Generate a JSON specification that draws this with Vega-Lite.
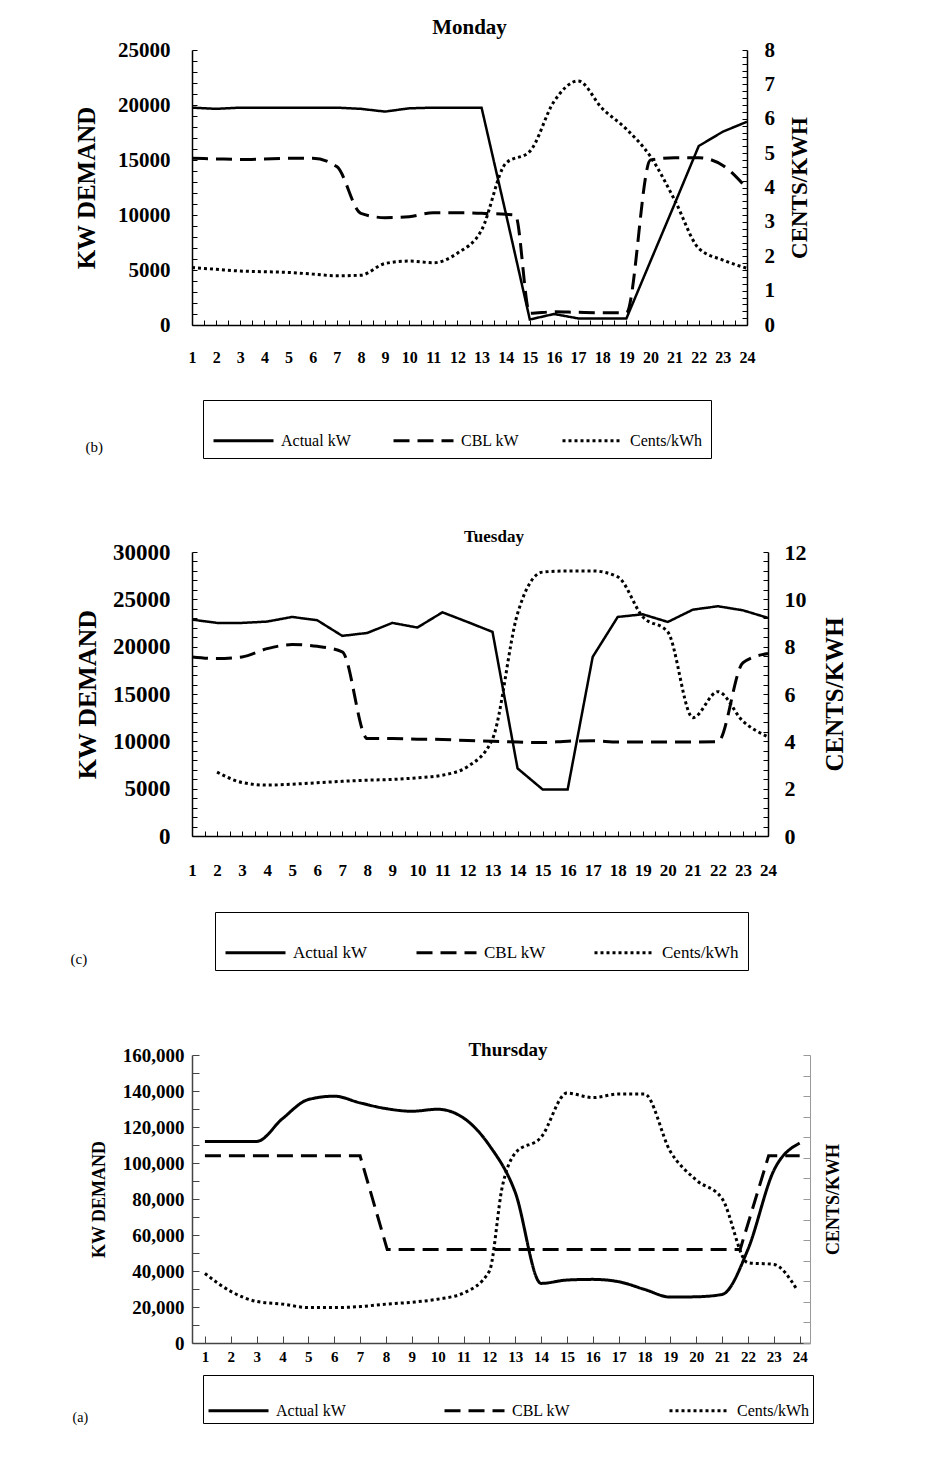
{
  "$schema": "https://vega.github.io/schema/vega-lite/v6.json",
  "background": "white",
  "padding": {"left": 70, "top": 17, "right": 10, "bottom": 10},
  "bounds": "flush",
  "spacing": 227,
  "resolve": {"scale": {"strokeDash": "independent"}, "legend": {"strokeDash": "independent"}},
  "config": {
    "view": {"stroke": null},
    "font": "Liberation Serif",
    "axis": {"grid": false, "domainColor": "black", "tickColor": "black", "labelColor": "black", "titleColor": "black", "labelFont": "Liberation Serif", "titleFont": "Liberation Serif", "domainWidth": 1.5, "tickWidth": 1},
    "legend": {"labelFont": "Liberation Serif", "labelColor": "black"}
  },
  "datasets": {
    "monday": [
      {"hour":1,"series":"Actual kW","value":19760},{"hour":2,"series":"Actual kW","value":19650},{"hour":3,"series":"Actual kW","value":19760},{"hour":4,"series":"Actual kW","value":19760},{"hour":5,"series":"Actual kW","value":19760},{"hour":6,"series":"Actual kW","value":19760},{"hour":7,"series":"Actual kW","value":19760},{"hour":8,"series":"Actual kW","value":19650},{"hour":9,"series":"Actual kW","value":19400},{"hour":10,"series":"Actual kW","value":19700},{"hour":11,"series":"Actual kW","value":19760},{"hour":12,"series":"Actual kW","value":19760},{"hour":13,"series":"Actual kW","value":19760},{"hour":14,"series":"Actual kW","value":10200},{"hour":15,"series":"Actual kW","value":500},{"hour":16,"series":"Actual kW","value":1000},{"hour":17,"series":"Actual kW","value":600},{"hour":18,"series":"Actual kW","value":580},{"hour":19,"series":"Actual kW","value":580},{"hour":20,"series":"Actual kW","value":5800},{"hour":21,"series":"Actual kW","value":11000},{"hour":22,"series":"Actual kW","value":16270},{"hour":23,"series":"Actual kW","value":17575},{"hour":24,"series":"Actual kW","value":18480},
      {"hour":1,"series":"CBL kW","value":15150},{"hour":2,"series":"CBL kW","value":15100},{"hour":3,"series":"CBL kW","value":15050},{"hour":4,"series":"CBL kW","value":15100},{"hour":5,"series":"CBL kW","value":15150},{"hour":6,"series":"CBL kW","value":15150},{"hour":7,"series":"CBL kW","value":14400},{"hour":8,"series":"CBL kW","value":10150},{"hour":9,"series":"CBL kW","value":9760},{"hour":10,"series":"CBL kW","value":9850},{"hour":11,"series":"CBL kW","value":10200},{"hour":12,"series":"CBL kW","value":10200},{"hour":13,"series":"CBL kW","value":10150},{"hour":14,"series":"CBL kW","value":10060},{"hour":14.4,"series":"CBL kW","value":10000},{"hour":15,"series":"CBL kW","value":1060},{"hour":16,"series":"CBL kW","value":1200},{"hour":17,"series":"CBL kW","value":1150},{"hour":18,"series":"CBL kW","value":1120},{"hour":19,"series":"CBL kW","value":1120},{"hour":20,"series":"CBL kW","value":15000},{"hour":21,"series":"CBL kW","value":15200},{"hour":22,"series":"CBL kW","value":15200},{"hour":23,"series":"CBL kW","value":14500},{"hour":24,"series":"CBL kW","value":12400},
      {"hour":1,"series":"Cents/kWh","value":1.67},{"hour":2,"series":"Cents/kWh","value":1.62},{"hour":3,"series":"Cents/kWh","value":1.57},{"hour":4,"series":"Cents/kWh","value":1.55},{"hour":5,"series":"Cents/kWh","value":1.53},{"hour":6,"series":"Cents/kWh","value":1.48},{"hour":7,"series":"Cents/kWh","value":1.43},{"hour":8,"series":"Cents/kWh","value":1.45},{"hour":9,"series":"Cents/kWh","value":1.79},{"hour":10,"series":"Cents/kWh","value":1.86},{"hour":11,"series":"Cents/kWh","value":1.81},{"hour":12,"series":"Cents/kWh","value":2.09},{"hour":13,"series":"Cents/kWh","value":2.76},{"hour":14,"series":"Cents/kWh","value":4.7},{"hour":15,"series":"Cents/kWh","value":5.05},{"hour":16,"series":"Cents/kWh","value":6.5},{"hour":17,"series":"Cents/kWh","value":7.1},{"hour":18,"series":"Cents/kWh","value":6.3},{"hour":19,"series":"Cents/kWh","value":5.7},{"hour":20,"series":"Cents/kWh","value":4.9},{"hour":21,"series":"Cents/kWh","value":3.64},{"hour":22,"series":"Cents/kWh","value":2.23},{"hour":23,"series":"Cents/kWh","value":1.89},{"hour":24,"series":"Cents/kWh","value":1.65}
    ],
    "tuesday": [
      {"hour":1,"series":"Actual kW","value":22860},{"hour":2,"series":"Actual kW","value":22510},{"hour":3,"series":"Actual kW","value":22510},{"hour":4,"series":"Actual kW","value":22650},{"hour":5,"series":"Actual kW","value":23140},{"hour":6,"series":"Actual kW","value":22790},{"hour":7,"series":"Actual kW","value":21140},{"hour":8,"series":"Actual kW","value":21450},{"hour":9,"series":"Actual kW","value":22510},{"hour":10,"series":"Actual kW","value":22020},{"hour":11,"series":"Actual kW","value":23630},{"hour":12,"series":"Actual kW","value":22610},{"hour":13,"series":"Actual kW","value":21560},{"hour":14,"series":"Actual kW","value":7140},{"hour":15,"series":"Actual kW","value":4920},{"hour":16,"series":"Actual kW","value":4920},{"hour":17,"series":"Actual kW","value":18920},{"hour":18,"series":"Actual kW","value":23140},{"hour":19,"series":"Actual kW","value":23420},{"hour":20,"series":"Actual kW","value":22610},{"hour":21,"series":"Actual kW","value":23910},{"hour":22,"series":"Actual kW","value":24270},{"hour":23,"series":"Actual kW","value":23840},{"hour":24,"series":"Actual kW","value":23040},
      {"hour":1,"series":"CBL kW","value":18920},{"hour":2,"series":"CBL kW","value":18750},{"hour":3,"series":"CBL kW","value":18920},{"hour":4,"series":"CBL kW","value":19790},{"hour":5,"series":"CBL kW","value":20220},{"hour":6,"series":"CBL kW","value":20040},{"hour":7,"series":"CBL kW","value":19450},{"hour":8,"series":"CBL kW","value":10300},{"hour":9,"series":"CBL kW","value":10300},{"hour":10,"series":"CBL kW","value":10230},{"hour":11,"series":"CBL kW","value":10200},{"hour":12,"series":"CBL kW","value":10090},{"hour":13,"series":"CBL kW","value":10020},{"hour":14,"series":"CBL kW","value":9920},{"hour":15,"series":"CBL kW","value":9880},{"hour":16,"series":"CBL kW","value":10020},{"hour":17,"series":"CBL kW","value":10060},{"hour":18,"series":"CBL kW","value":9920},{"hour":19,"series":"CBL kW","value":9920},{"hour":20,"series":"CBL kW","value":9920},{"hour":21,"series":"CBL kW","value":9920},{"hour":22,"series":"CBL kW","value":9950},{"hour":23,"series":"CBL kW","value":18300},{"hour":24,"series":"CBL kW","value":19270},
      {"hour":2,"series":"Cents/kWh","value":2.7},{"hour":3,"series":"Cents/kWh","value":2.26},{"hour":4,"series":"Cents/kWh","value":2.15},{"hour":5,"series":"Cents/kWh","value":2.19},{"hour":6,"series":"Cents/kWh","value":2.25},{"hour":7,"series":"Cents/kWh","value":2.31},{"hour":8,"series":"Cents/kWh","value":2.36},{"hour":9,"series":"Cents/kWh","value":2.39},{"hour":10,"series":"Cents/kWh","value":2.46},{"hour":11,"series":"Cents/kWh","value":2.57},{"hour":12,"series":"Cents/kWh","value":2.93},{"hour":13,"series":"Cents/kWh","value":4.1},{"hour":14,"series":"Cents/kWh","value":9.4},{"hour":15,"series":"Cents/kWh","value":11.15},{"hour":16,"series":"Cents/kWh","value":11.2},{"hour":17,"series":"Cents/kWh","value":11.2},{"hour":18,"series":"Cents/kWh","value":10.95},{"hour":19,"series":"Cents/kWh","value":9.26},{"hour":20,"series":"Cents/kWh","value":8.62},{"hour":21,"series":"Cents/kWh","value":5.0},{"hour":22,"series":"Cents/kWh","value":6.1},{"hour":23,"series":"Cents/kWh","value":4.85},{"hour":24,"series":"Cents/kWh","value":4.19}
    ],
    "thursday": [
      {"hour":1,"series":"Actual kW","value":112000},{"hour":2,"series":"Actual kW","value":112000},{"hour":3,"series":"Actual kW","value":112000},{"hour":4,"series":"Actual kW","value":124650},{"hour":5,"series":"Actual kW","value":135260},{"hour":6,"series":"Actual kW","value":137120},{"hour":7,"series":"Actual kW","value":133400},{"hour":8,"series":"Actual kW","value":130230},{"hour":9,"series":"Actual kW","value":128750},{"hour":10,"series":"Actual kW","value":129860},{"hour":11,"series":"Actual kW","value":125020},{"hour":12,"series":"Actual kW","value":109770},{"hour":13,"series":"Actual kW","value":83720},{"hour":14,"series":"Actual kW","value":33120},{"hour":15,"series":"Actual kW","value":34980},{"hour":16,"series":"Actual kW","value":35350},{"hour":17,"series":"Actual kW","value":34050},{"hour":18,"series":"Actual kW","value":29770},{"hour":19,"series":"Actual kW","value":25490},{"hour":20,"series":"Actual kW","value":25670},{"hour":21,"series":"Actual kW","value":26980},{"hour":22,"series":"Actual kW","value":52000},{"hour":23,"series":"Actual kW","value":95810},{"hour":24,"series":"Actual kW","value":111070},
      {"hour":1,"series":"CBL kW","value":104000},{"hour":2,"series":"CBL kW","value":104000},{"hour":3,"series":"CBL kW","value":104000},{"hour":4,"series":"CBL kW","value":104000},{"hour":5,"series":"CBL kW","value":104000},{"hour":6,"series":"CBL kW","value":104000},{"hour":7,"series":"CBL kW","value":104000},{"hour":8.05,"series":"CBL kW","value":52000},{"hour":9,"series":"CBL kW","value":52000},{"hour":10,"series":"CBL kW","value":52000},{"hour":11,"series":"CBL kW","value":52000},{"hour":12,"series":"CBL kW","value":52000},{"hour":13,"series":"CBL kW","value":52000},{"hour":14,"series":"CBL kW","value":52000},{"hour":15,"series":"CBL kW","value":52000},{"hour":16,"series":"CBL kW","value":52000},{"hour":17,"series":"CBL kW","value":52000},{"hour":18,"series":"CBL kW","value":52000},{"hour":19,"series":"CBL kW","value":52000},{"hour":20,"series":"CBL kW","value":52000},{"hour":21,"series":"CBL kW","value":52000},{"hour":21.7,"series":"CBL kW","value":52000},{"hour":22.8,"series":"CBL kW","value":104000},{"hour":23,"series":"CBL kW","value":104000},{"hour":24,"series":"CBL kW","value":104000},
      {"hour":1,"series":"Cents/kWh","value":3.38},{"hour":2,"series":"Cents/kWh","value":2.51},{"hour":3,"series":"Cents/kWh","value":2.02},{"hour":4,"series":"Cents/kWh","value":1.89},{"hour":5,"series":"Cents/kWh","value":1.72},{"hour":6,"series":"Cents/kWh","value":1.72},{"hour":7,"series":"Cents/kWh","value":1.77},{"hour":8,"series":"Cents/kWh","value":1.89},{"hour":9,"series":"Cents/kWh","value":1.98},{"hour":10,"series":"Cents/kWh","value":2.13},{"hour":11,"series":"Cents/kWh","value":2.43},{"hour":12,"series":"Cents/kWh","value":3.49},{"hour":12.5,"series":"Cents/kWh","value":7.6},{"hour":13,"series":"Cents/kWh","value":9.23},{"hour":14,"series":"Cents/kWh","value":10.0},{"hour":15,"series":"Cents/kWh","value":12.15},{"hour":16,"series":"Cents/kWh","value":11.93},{"hour":17,"series":"Cents/kWh","value":12.1},{"hour":18,"series":"Cents/kWh","value":12.1},{"hour":19,"series":"Cents/kWh","value":9.31},{"hour":20,"series":"Cents/kWh","value":7.92},{"hour":21,"series":"Cents/kWh","value":7.02},{"hour":22,"series":"Cents/kWh","value":3.9},{"hour":23,"series":"Cents/kWh","value":3.82},{"hour":23.9,"series":"Cents/kWh","value":2.59}
    ]
  },
  "vconcat": [
    {
      "width": 555, "height": 275,
      "data": {"name": "monday"},
      "title": {"text": "Monday", "fontSize": 21, "font": "Liberation Serif", "fontWeight": "bold", "color": "black", "offset": 1, "frame": "group"},
      "encoding": {
        "x": {"field": "hour", "type": "quantitative", "scale": {"domain": [1, 24], "nice": false, "zero": false},
          "axis": {"values": [1,1.5,2,2.5,3,3.5,4,4.5,5,5.5,6,6.5,7,7.5,8,8.5,9,9.5,10,10.5,11,11.5,12,12.5,13,13.5,14,14.5,15,15.5,16,16.5,17,17.5,18,18.5,19,19.5,20,20.5,21,21.5,22,22.5,23,23.5,24],
            "labelExpr": "datum.value % 1 === 0 ? format(datum.value, 'd') : ''", "tickSize": -5, "labelPadding": 29, "labelFontSize": 16, "labelFontWeight": "bold", "labelFlush": false,
            "title": "(b)", "titleAnchor": "start", "titleAlign": "left", "titleBaseline": "middle", "titleX": -107, "titleY": 121, "titleFontSize": 15, "titleFontWeight": "normal"}},
        "strokeDash": {"field": "series", "type": "nominal",
          "scale": {"domain": ["Actual kW", "CBL kW", "Cents/kWh"], "range": [[1, 0], [16, 8], [3, 3]]},
          "legend": {"orient": "none", "legendX": 11, "legendY": 350, "direction": "horizontal", "columns": 3, "title": null,
            "strokeColor": "black", "fillColor": "white", "padding": 9, "columnPadding": 36,
            "symbolType": "stroke", "symbolSize": 3600, "symbolStrokeWidth": 3, "symbolStrokeColor": "black",
            "labelFontSize": 16, "labelOffset": 6, "labelLimit": 300}}
      },
      "layer": [
        {
          "encoding": {"y": {"field": "value", "type": "quantitative", "scale": {"domain": [0, 25000], "nice": false},
            "axis": {"orient": "left", "values": [0,1000,2000,3000,4000,5000,6000,7000,8000,9000,10000,11000,12000,13000,14000,15000,16000,17000,18000,19000,20000,21000,22000,23000,24000,25000],
              "format": "d", "labelExpr": "datum.value % 5000 === 0 ? format(datum.value, 'd') : ''", "tickSize": -5, "labelPadding": 27, "labelFontSize": 21, "labelFontWeight": "bold",
              "title": "KW DEMAND", "titleFontSize": 25, "titleFontWeight": "bold", "titlePadding": 18}}},
          "layer": [
            {"transform": [{"filter": "datum.series === 'Actual kW'"}], "mark": {"type": "line", "color": "black", "strokeWidth": 2.5}},
            {"transform": [{"filter": "datum.series === 'CBL kW'"}], "mark": {"type": "line", "color": "black", "strokeWidth": 3, "interpolate": "monotone"}}
          ]
        },
        {
          "transform": [{"filter": "datum.series === 'Cents/kWh'"}],
          "mark": {"type": "line", "color": "black", "strokeWidth": 3, "interpolate": "monotone", "strokeCap": "butt"},
          "encoding": {"y": {"field": "value", "type": "quantitative", "scale": {"domain": [0, 8], "nice": false},
            "axis": {"orient": "right", "values": [0,0.2,0.4,0.6,0.8,1,1.2,1.4,1.6,1.8,2,2.2,2.4,2.6,2.8,3,3.2,3.4,3.6,3.8,4,4.2,4.4,4.6,4.8,5,5.2,5.4,5.6,5.8,6,6.2,6.4,6.6,6.8,7,7.2,7.4,7.6,7.8,8],
              "labelExpr": "abs(datum.value - round(datum.value)) < 0.001 ? format(datum.value, 'd') : ''", "tickSize": -5, "labelPadding": 22, "labelFontSize": 21, "labelFontWeight": "bold",
              "title": "CENTS/KWH", "titleAngle": 270, "titleBaseline": "top", "titleFontSize": 23, "titleFontWeight": "bold", "titlePadding": 14}}}
        }
      ],
      "resolve": {"scale": {"y": "independent"}}
    },
    {
      "bounds": "flush",
      "spacing": 219,
      "resolve": {"scale": {"strokeDash": "independent"}, "legend": {"strokeDash": "independent"}},
      "vconcat": [
        {
          "width": 576, "height": 284,
          "data": {"name": "tuesday"},
          "title": {"text": "Tuesday", "fontSize": 17, "font": "Liberation Serif", "fontWeight": "bold", "color": "black", "offset": -5, "dx": 14, "frame": "group"},
          "encoding": {
            "x": {"field": "hour", "type": "quantitative", "scale": {"domain": [1, 24], "nice": false, "zero": false},
              "axis": {"values": [1,1.5,2,2.5,3,3.5,4,4.5,5,5.5,6,6.5,7,7.5,8,8.5,9,9.5,10,10.5,11,11.5,12,12.5,13,13.5,14,14.5,15,15.5,16,16.5,17,17.5,18,18.5,19,19.5,20,20.5,21,21.5,22,22.5,23,23.5,24],
                "labelExpr": "datum.value % 1 === 0 ? format(datum.value, 'd') : ''", "tickSize": -5, "labelPadding": 31, "labelFontSize": 17, "labelFontWeight": "bold", "labelFlush": false,
                "title": "(c)", "titleAnchor": "start", "titleAlign": "left", "titleBaseline": "middle", "titleX": -122, "titleY": 122, "titleFontSize": 15, "titleFontWeight": "normal"}},
            "strokeDash": {"field": "series", "type": "nominal",
              "scale": {"domain": ["Actual kW", "CBL kW", "Cents/kWh"], "range": [[1, 0], [16, 8], [3, 3]]},
              "legend": {"orient": "none", "legendX": 23, "legendY": 360, "direction": "horizontal", "columns": 3, "title": null,
                "strokeColor": "black", "fillColor": "white", "padding": 9, "columnPadding": 42,
                "symbolType": "stroke", "symbolSize": 3600, "symbolStrokeWidth": 3, "symbolStrokeColor": "black",
                "labelFontSize": 17, "labelOffset": 6, "labelLimit": 300}}
          },
          "layer": [
            {
              "encoding": {"y": {"field": "value", "type": "quantitative", "scale": {"domain": [0, 30000], "nice": false},
                "axis": {"orient": "left", "values": [0,1000,2000,3000,4000,5000,6000,7000,8000,9000,10000,11000,12000,13000,14000,15000,16000,17000,18000,19000,20000,21000,22000,23000,24000,25000,26000,27000,28000,29000,30000],
                  "format": "d", "labelExpr": "datum.value % 5000 === 0 ? format(datum.value, 'd') : ''", "tickSize": -5, "labelPadding": 27, "labelFontSize": 23, "labelFontWeight": "bold",
                  "title": "KW DEMAND", "titleFontSize": 26, "titleFontWeight": "bold", "titlePadding": 12}}},
              "layer": [
                {"transform": [{"filter": "datum.series === 'Actual kW'"}], "mark": {"type": "line", "color": "black", "strokeWidth": 2.5}},
                {"transform": [{"filter": "datum.series === 'CBL kW'"}], "mark": {"type": "line", "color": "black", "strokeWidth": 3, "interpolate": "monotone"}}
              ]
            },
            {
              "transform": [{"filter": "datum.series === 'Cents/kWh'"}],
              "mark": {"type": "line", "color": "black", "strokeWidth": 3, "interpolate": "monotone", "strokeCap": "butt"},
              "encoding": {"y": {"field": "value", "type": "quantitative", "scale": {"domain": [0, 12], "nice": false},
                "axis": {"orient": "right", "values": [0,0.4,0.8,1.2,1.6,2,2.4,2.8,3.2,3.6,4,4.4,4.8,5.2,5.6,6,6.4,6.8,7.2,7.6,8,8.4,8.8,9.2,9.6,10,10.4,10.8,11.2,11.6,12],
                  "labelExpr": "abs(datum.value / 2 - round(datum.value / 2)) < 0.001 ? format(datum.value, 'd') : ''", "tickSize": -5, "labelPadding": 21, "labelFontSize": 22, "labelFontWeight": "bold",
                  "title": "CENTS/KWH", "titleAngle": 270, "titleBaseline": "top", "titleFontSize": 25, "titleFontWeight": "bold", "titlePadding": 16}}}
            }
          ],
          "resolve": {"scale": {"y": "independent"}}
        },
        {
          "width": 618, "height": 288,
          "data": {"name": "thursday"},
          "title": {"text": "Thursday", "fontSize": 19, "font": "Liberation Serif", "fontWeight": "bold", "color": "black", "offset": -14, "dx": 7, "frame": "group"},
          "encoding": {
            "x": {"field": "hour", "type": "quantitative", "scale": {"domain": [0.5, 24.4], "nice": false, "zero": false},
              "axis": {"values": [1,2,3,4,5,6,7,8,9,10,11,12,13,14,15,16,17,18,19,20,21,22,23,24],
                "format": "d", "tickSize": -7, "labelPadding": 13, "labelFontSize": 15, "labelFontWeight": "bold", "labelFlush": false, "domainColor": "#444", "tickColor": "#444",
                "title": "(a)", "titleAnchor": "start", "titleAlign": "left", "titleBaseline": "middle", "titleX": -120, "titleY": 74, "titleFontSize": 14, "titleFontWeight": "normal"}},
            "strokeDash": {"field": "series", "type": "nominal",
              "scale": {"domain": ["Actual kW", "CBL kW", "Cents/kWh"], "range": [[1, 0], [16, 8], [3, 3]]},
              "legend": {"orient": "none", "legendX": 11, "legendY": 320, "direction": "horizontal", "columns": 3, "title": null,
                "strokeColor": "black", "fillColor": "white", "padding": 4, "columnPadding": 92,
                "symbolType": "stroke", "symbolSize": 3600, "symbolStrokeWidth": 3, "symbolStrokeColor": "black",
                "labelFontSize": 16, "labelOffset": 6, "labelLimit": 300}}
          },
          "layer": [
            {
              "encoding": {"y": {"field": "value", "type": "quantitative", "scale": {"domain": [0, 160000], "nice": false},
                "axis": {"orient": "left", "values": [0,10000,20000,30000,40000,50000,60000,70000,80000,90000,100000,110000,120000,130000,140000,150000,160000],
                  "format": ",", "labelExpr": "datum.value % 20000 === 0 ? format(datum.value, ',') : ''", "tickSize": -7, "labelPadding": 15, "labelFontSize": 19, "labelFontWeight": "bold", "domainColor": "#444", "tickColor": "#444",
                  "title": "KW DEMAND", "titleFontSize": 18, "titleFontWeight": "bold", "titlePadding": 14}}},
              "layer": [
                {"transform": [{"filter": "datum.series === 'Actual kW'"}], "mark": {"type": "line", "color": "black", "strokeWidth": 3, "interpolate": "monotone"}},
                {"transform": [{"filter": "datum.series === 'CBL kW'"}], "mark": {"type": "line", "color": "black", "strokeWidth": 3}}
              ]
            },
            {
              "transform": [{"filter": "datum.series === 'Cents/kWh'"}],
              "mark": {"type": "line", "color": "black", "strokeWidth": 3, "interpolate": "monotone", "strokeCap": "butt"},
              "encoding": {"y": {"field": "value", "type": "quantitative", "scale": {"domain": [0, 14], "nice": false},
                "axis": {"orient": "right", "values": [0,1,2,3,4,5,6,7,8,9,10,11,12,13,14], "labels": false, "tickSize": -7, "domainColor": "#999", "tickColor": "#999", "domainWidth": 1,
                  "title": "CENTS/KWH", "titleAngle": 270, "titleBaseline": "top", "titleFontSize": 18, "titleFontWeight": "bold", "titlePadding": 14}}}
            }
          ],
          "resolve": {"scale": {"y": "independent"}}
        }
      ]
    }
  ]
}
